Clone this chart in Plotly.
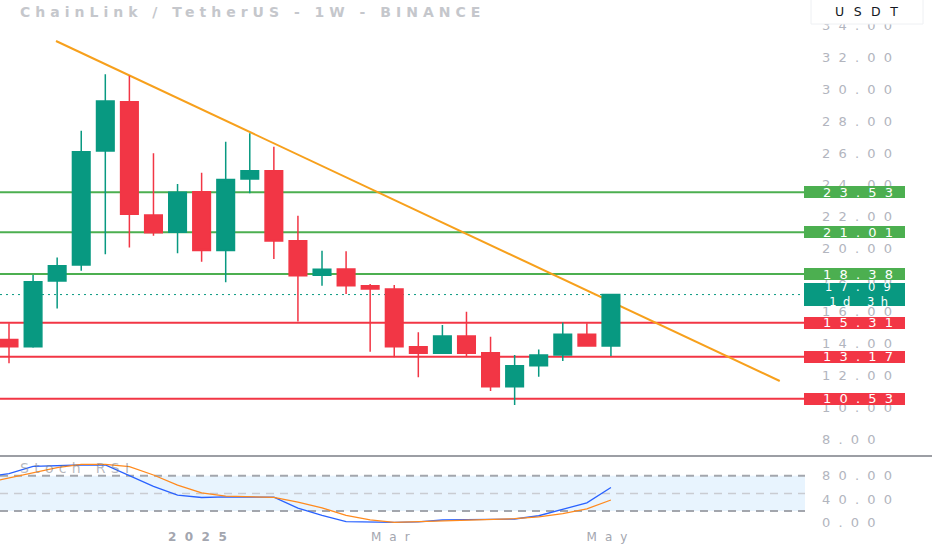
import pandas as pd
import plotly.graph_objects as go

# weekly LINK/USDT candles
weeks = pd.date_range("2024-11-11", periods=26, freq="7D")
opens = [14.27, 13.81, 17.94, 18.95, 26.12, 29.23, 22.10, 21.01, 23.56, 19.87, 24.36, 24.89, 20.48,
         18.30, 18.70, 17.65, 17.44, 13.81, 13.39, 14.48, 13.43, 11.29, 12.61, 13.29, 14.59, 13.85]
highs = [15.28, 18.32, 19.43, 27.40, 30.95, 30.87, 25.98, 24.05, 24.76, 26.71, 27.24, 26.40, 22.05,
         19.85, 19.81, 17.75, 17.69, 14.72, 15.17, 16.01, 14.44, 13.29, 13.64, 15.34, 15.28, 17.09]
lows = [12.76, 13.75, 16.22, 18.59, 19.62, 20.06, 20.80, 19.69, 19.16, 17.86, 23.46, 19.33, 15.40,
        17.65, 17.12, 13.49, 13.14, 11.88, 13.35, 13.22, 11.02, 10.14, 11.92, 12.91, 13.80, 13.22]
closes = [13.81, 17.90, 18.91, 26.08, 29.27, 22.14, 20.98, 23.53, 19.87, 24.34, 24.89, 20.46, 18.28,
          18.68, 17.65, 17.44, 13.81, 13.39, 14.48, 13.39, 11.29, 12.61, 13.29, 14.59, 13.85, 17.09]

# stoch rsi (starts one week earlier, off the left edge)
stoch_weeks = pd.date_range("2024-11-04", periods=27, freq="7D")
stoch_k = [78, 83.5, 96, 97.5, 98.3, 98.3, 80, 62, 47, 43, 44, 44, 43.5, 25, 12.5, 2, 0.8, 0.8,
           1.5, 4.8, 5.5, 6, 6.5, 12, 23, 34, 60]
stoch_d = [67.5, 76, 85.5, 94, 99.5, 99.5, 95.4, 81.3, 64, 51, 45.5, 44, 43.3, 35, 25.5, 12.5, 4.8,
           0.8, 2, 3.6, 5, 6, 7, 10, 15.5, 23.5, 38.8]

# horizontal levels drawn on the chart
green_levels = [23.53, 21.01, 18.38]
red_levels = [15.31, 13.17, 10.53]
last_price = 17.09
countdown = "1d 3h"

# trend line endpoints
trend_x = ["2024-11-24 16:00", "2025-06-23 02:00"]
trend_y = [33.05, 11.65]

price_ticks = list(range(8, 36, 2))
stoch_ticks = [0, 40, 80]
time_ticks = ["2025-01-06", "2025-03-03", "2025-05-05"]
time_labels = ["2025", "Mar", "May"]

UP = "#089981"
DOWN = "#f23645"
LEVEL_GREEN = "#4caf50"
TICK_GREY = "#b2b5be"
FONT = "DejaVu Sans"
TICK_LS = 8.2


def spaced(s, ls, bold=False):
    style = "letter-spacing:%spx" % ls
    if bold:
        style += ";font-weight:bold"
    return '<span style="%s">%s</span>' % (style, s)


W, H = 932, 550
plot_w = 805
plot_h = 528
y_lo, y_hi = 6.93, 35.63
x_start = weeks[0] - pd.Timedelta(days=0.374 * 7)
x_end = weeks[0] + pd.Timedelta(days=33.06 * 7)


def py(pix):
    # pixel row from the top -> paper y
    return (plot_h - pix) / plot_h


fig = go.Figure()
fig.add_trace(go.Candlestick(
    x=weeks, open=opens, high=highs, low=lows, close=closes,
    xaxis="x", yaxis="y", whiskerwidth=0, hoverinfo="skip",
    increasing=dict(line=dict(color=UP, width=1.5), fillcolor=UP),
    decreasing=dict(line=dict(color=DOWN, width=1.5), fillcolor=DOWN),
))
fig.add_trace(go.Scatter(x=stoch_weeks, y=stoch_k, xaxis="x2", yaxis="y2", mode="lines",
                         line=dict(color="#2962ff", width=1.3), hoverinfo="skip"))
fig.add_trace(go.Scatter(x=stoch_weeks, y=stoch_d, xaxis="x2", yaxis="y2", mode="lines",
                         line=dict(color="#ff8a1e", width=1.3), hoverinfo="skip"))

shapes = []
# stoch band + dashed bounds
shapes.append(dict(type="rect", xref="paper", yref="y2", x0=0, x1=1, y0=20, y1=80,
                   fillcolor="rgba(33,150,243,0.1)", line=dict(width=0), layer="below"))
for v, col, w in [(80, "#a3a6ad", 2), (50, "#c9ccd2", 1.5), (20, "#a3a6ad", 2)]:
    shapes.append(dict(type="line", xref="paper", yref="y2", x0=0, x1=1, y0=v, y1=v,
                       line=dict(color=col, width=w, dash="8px,6px"), layer="below"))
# price levels
for levels, col in [(green_levels, LEVEL_GREEN), (red_levels, DOWN)]:
    for v in levels:
        shapes.append(dict(type="line", xref="paper", yref="y", x0=0, x1=1, y0=v, y1=v,
                           line=dict(color=col, width=2), layer="below"))
shapes.append(dict(type="line", xref="paper", yref="y", x0=0, x1=1, y0=last_price, y1=last_price,
                   line=dict(color=UP, width=1, dash="2px,4px"), layer="below"))
# trend line
shapes.append(dict(type="line", xref="x", yref="y", x0=trend_x[0], x1=trend_x[1],
                   y0=trend_y[0], y1=trend_y[1], line=dict(color="#f7a01c", width=2), layer="below"))
# pane separator
shapes.append(dict(type="line", xref="paper", yref="paper", x0=0, x1=W / plot_w, y0=py(456),
                   y1=py(456), line=dict(color="#7b7e86", width=1.5)))
# USDT header box
shapes.append(dict(type="rect", xref="paper", yref="paper", x0=811 / plot_w, x1=923 / plot_w,
                   y0=py(24), y1=1.01, fillcolor="white", line=dict(color="#eef0f3", width=1)))

# price-scale badges: a filled box annotation (covers the tick labels) + white text on top
text_x = (857.5 + TICK_LS / 2) / plot_w
annotations = []


def badge(v, col, h, label, size):
    annotations.append(dict(x=1, xref="paper", y=v, yref="y", xanchor="left", yanchor="middle",
                            xshift=-1, text="\u00a0", showarrow=False, bgcolor=col, width=101,
                            height=h, borderpad=0, borderwidth=0, font=dict(size=6)))
    annotations.append(dict(x=text_x, xref="paper", y=v, yref="y", xanchor="center",
                            yanchor="middle", text=label, showarrow=False,
                            font=dict(family=FONT, size=size, color="white")))


for levels, col in [(green_levels, LEVEL_GREEN), (red_levels, DOWN)]:
    for v in levels:
        badge(v, col, 12.4, spaced("%.2f" % v, TICK_LS), 13)
badge(last_price, UP, 23, spaced("%.2f" % last_price, TICK_LS) + "<br>" + spaced(countdown, 6.5), 11.5)

annotations.append(dict(x=(866 + 4.7) / plot_w, xref="paper", y=py(11), yref="paper",
                        xanchor="center", yanchor="middle",
                        text=spaced("USDT", 9.5), showarrow=False,
                        font=dict(family=FONT, size=12.5, color="#131722")))
annotations.append(dict(x=18 / plot_w, xref="paper", y=py(12), yref="paper", xanchor="left",
                        yanchor="middle",
                        text=spaced("ChainLink / TetherUS - 1W - BINANCE", 5, True),
                        showarrow=False, font=dict(family=FONT, size=14, color="#c5c7cc")))
annotations.append(dict(x=18 / plot_w, xref="paper", y=py(468), yref="paper", xanchor="left",
                        yanchor="middle", text=spaced("Stoch RSI", 5.3), showarrow=False,
                        font=dict(family=FONT, size=14, color="rgba(120,123,134,0.55)")))

fig.update_layout(
    width=W, height=H,
    margin=dict(l=0, r=W - plot_w, t=0, b=H - plot_h),
    paper_bgcolor="white", plot_bgcolor="white",
    showlegend=False, boxgap=0.27, boxgroupgap=0,
    shapes=shapes, annotations=annotations,
    xaxis=dict(domain=[0, 1], anchor="y", type="date", range=[x_start, x_end],
               showticklabels=False, showgrid=False, zeroline=False, rangeslider=dict(visible=False),
               matches="x2"),
    xaxis2=dict(domain=[0, 1], anchor="y2", type="date", range=[x_start, x_end],
                showgrid=False, zeroline=False, tickvals=time_ticks,
                ticktext=[spaced(time_labels[0], 8.5, True)] + [spaced(t, 8) for t in time_labels[1:]],
                tickfont=dict(family=FONT, size=12, color="#a3a6af"), ticks=""),
    yaxis=dict(domain=[py(456), 1], anchor="x", side="right",
               range=[y_lo, y_hi], showgrid=False, zeroline=False, ticks="",
               tickvals=price_ticks, ticktext=[spaced("%.2f" % v, TICK_LS) for v in price_ticks],
               tickfont=dict(family=FONT, size=13, color=TICK_GREY), ticklabelstandoff=16),
    yaxis2=dict(domain=[0, py(457)], anchor="x2", side="right",
                range=[-8.84, 111.9], showgrid=False, zeroline=False, ticks="",
                tickvals=stoch_ticks, ticktext=[spaced("%.2f" % v, TICK_LS) for v in stoch_ticks],
                tickfont=dict(family=FONT, size=13, color=TICK_GREY), ticklabelstandoff=16),
)

# the page body has an 8px default margin; drop it so the chart sits at the window corner
fig.write_html("out.html", config=dict(displayModeBar=False),
               post_script="document.body.style.margin='0';")
